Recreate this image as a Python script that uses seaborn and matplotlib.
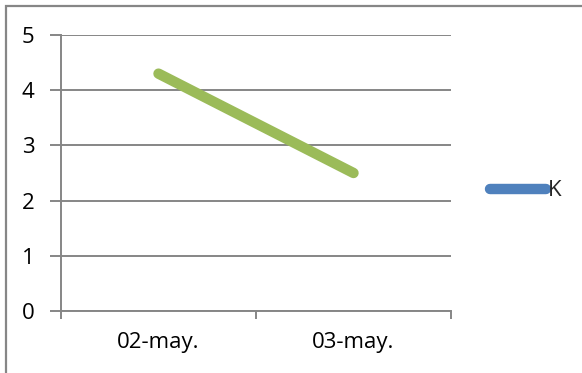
import matplotlib
matplotlib.use("Agg")
import matplotlib.pyplot as plt
from matplotlib.lines import Line2D
from matplotlib.patches import Rectangle
import seaborn as sns
import pandas as pd

# chart data
dates = ["02-may.", "03-may."]
k_values = [4.3, 2.5]
series_name = "K"
y_ticks = [0, 1, 2, 3, 4, 5]

sns.set_style("white")
plt.rcParams["font.family"] = ["Open Sans", "DejaVu Sans"]

W, H = 582, 373
fig = plt.figure(figsize=(W / 100, H / 100), dpi=100)
ax = fig.add_axes([61 / W, 1 - 311 / H, (451 - 61) / W, (311 - 35) / H])

df = pd.DataFrame({"pos": range(len(dates)), "value": k_values})
line_green = "#9BBB59"
legend_blue = "#4F81BD"
axis_gray = "#868686"
fs = 16

sns.lineplot(data=df, x="pos", y="value", ax=ax, color=line_green,
             linewidth=7.5, solid_capstyle="round", legend=False)

ax.set_xlim(-0.5, len(dates) - 0.5)
ax.set_ylim(0, 5)
ax.set_xlabel("")
ax.set_ylabel("")

# y axis with gridlines and outward ticks
ax.set_yticks(y_ticks)
ax.set_yticklabels([str(t) for t in y_ticks])
ax.yaxis.grid(True, color=axis_gray, linewidth=1.4)
ax.xaxis.grid(False)
ax.tick_params(axis="y", which="major", direction="out", length=8, width=1.4,
               color=axis_gray, pad=11, labelsize=fs, labelcolor="black", left=True)

# category labels centred, tick marks between categories
ax.set_xticks(range(len(dates)))
ax.set_xticklabels(dates)
ax.set_xticks([i - 0.5 for i in range(len(dates) + 1)], minor=True)
ax.tick_params(axis="x", which="major", length=0, pad=15, labelsize=fs, labelcolor="black")
ax.tick_params(axis="x", which="minor", direction="out", length=6, width=1.4,
               color=axis_gray, bottom=True)

for side in ["top", "right"]:
    ax.spines[side].set_visible(False)
for side in ["left", "bottom"]:
    ax.spines[side].set_visible(True)
    ax.spines[side].set_color(axis_gray)
    ax.spines[side].set_linewidth(1.4)

handle = Line2D([], [], color=legend_blue, linewidth=7.5, solid_capstyle="round")
fig.legend([handle], [series_name], loc="center left",
           bbox_to_anchor=(490 / W, 1 - 191 / H), frameon=False,
           borderpad=0, borderaxespad=0, handlelength=2.5, handletextpad=0.1,
           fontsize=fs)

# chart-area border
fig.patches.append(Rectangle((5.5 / W, -0.1), 1.2, 1 - 5.5 / H + 0.1,
                             transform=fig.transFigure, fill=False,
                             edgecolor=axis_gray, linewidth=1.6))

fig.savefig("out.png", dpi=100)
